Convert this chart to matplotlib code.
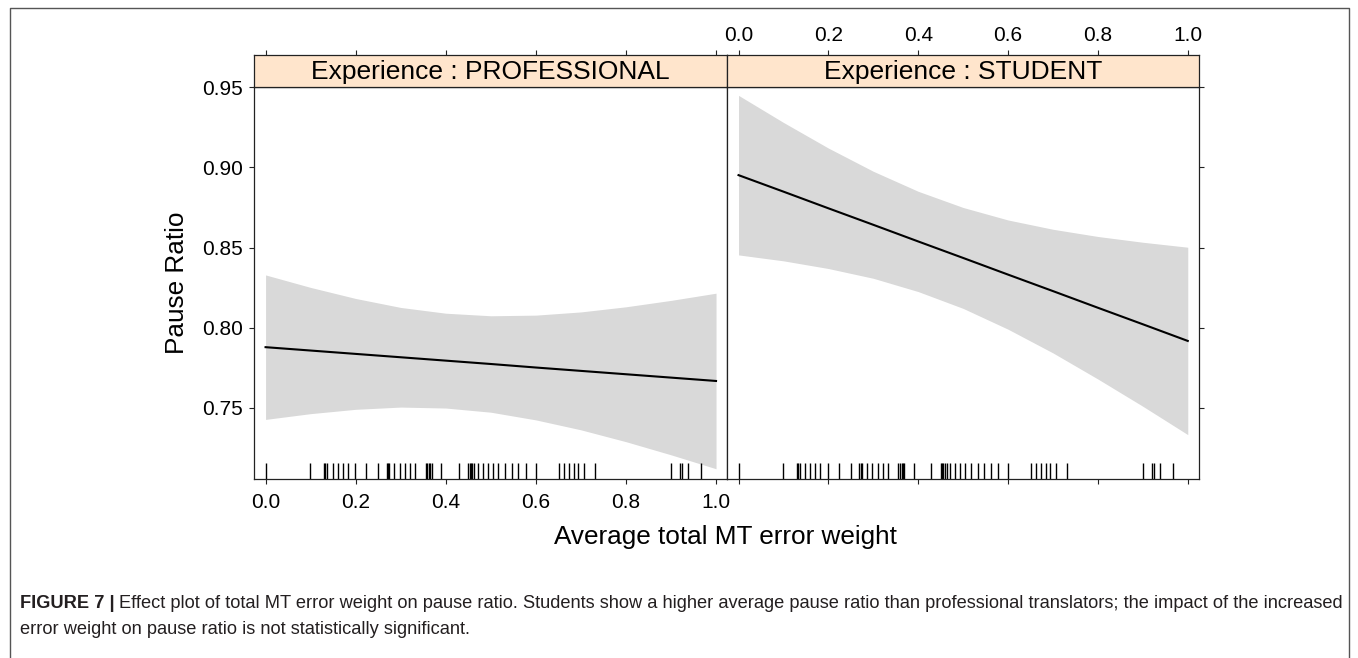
import matplotlib
matplotlib.use("Agg")
import matplotlib.pyplot as plt
from matplotlib import font_manager as fm
from matplotlib.lines import Line2D
from matplotlib.transforms import blended_transform_factory

plt.rcParams['font.family'] = ['Liberation Sans', 'DejaVu Sans']

# ---------------- data ----------------
panels = ["Experience : PROFESSIONAL", "Experience : STUDENT"]
x_grid = [0.0, 0.1, 0.2, 0.3, 0.4, 0.5, 0.6, 0.7, 0.8, 0.9, 1.0]
prof_fit = [0.7878, 0.7857, 0.7836, 0.7815, 0.7794, 0.7773, 0.7751, 0.7730, 0.7709, 0.7688, 0.7667]
prof_lower = [0.7427, 0.7463, 0.7490, 0.7504, 0.7498, 0.7472, 0.7424, 0.7362, 0.7288, 0.7206, 0.7119]
prof_upper = [0.8329, 0.8251, 0.8182, 0.8126, 0.8090, 0.8074, 0.8078, 0.8098, 0.8130, 0.8170, 0.8215]
stud_fit = [0.8952, 0.8849, 0.8745, 0.8642, 0.8538, 0.8435, 0.8331, 0.8228, 0.8124, 0.8021, 0.7917]
stud_lower = [0.8454, 0.8417, 0.8369, 0.8308, 0.8225, 0.8120, 0.7990, 0.7842, 0.7679, 0.7509, 0.7332]
stud_upper = [0.9450, 0.9281, 0.9121, 0.8976, 0.8851, 0.8750, 0.8672, 0.8614, 0.8569, 0.8533, 0.8502]
rug_x = [0.0, 0.099, 0.130, 0.133, 0.136, 0.149, 0.160, 0.171, 0.182, 0.199, 0.223,
         0.250, 0.269, 0.272, 0.275, 0.285, 0.298, 0.310, 0.321, 0.332, 0.356, 0.359,
         0.363, 0.366, 0.369, 0.390, 0.429, 0.450, 0.453, 0.456, 0.459, 0.463, 0.471,
         0.482, 0.493, 0.504, 0.517, 0.532, 0.547, 0.561, 0.578, 0.600, 0.652, 0.663,
         0.674, 0.685, 0.694, 0.707, 0.731, 0.900, 0.921, 0.924, 0.938, 0.967]
x_ticks = [0.0, 0.2, 0.4, 0.6, 0.8, 1.0]
x_ticklabels = ["0.0", "0.2", "0.4", "0.6", "0.8", "1.0"]
y_ticks = [0.75, 0.80, 0.85, 0.90, 0.95]
y_ticklabels = ["0.75", "0.80", "0.85", "0.90", "0.95"]
x_label = "Average total MT error weight"
y_label = "Pause Ratio"
caption_bold = "FIGURE 7 |"
caption_line1 = ("Effect plot of total MT error weight on pause ratio. Students show a higher average "
                 "pause ratio than professional translators; the impact of the increased")
caption_line2 = "error weight on pause ratio is not statistically significant."

# ---------------- layout ----------------
W, H = 1358, 658
fig = plt.figure(figsize=(W / 100, H / 100), dpi=100)
fig.patch.set_facecolor("white")

panel_top, panel_bot = 87.2, 479.0
strip_top = 55.0
panel_x = [(254.3, 727.3), (727.3, 1199.0)]
XLIM = (-0.025, 1.025)
YLIM = (0.7055, 0.9501)
band_color = "#D9D9D9"
strip_color = "#FFE5CC"
spine_color = "#222222"
tick_len = 3.6
fits = [(prof_fit, prof_lower, prof_upper), (stud_fit, stud_lower, stud_upper)]

for i, ((x0, x1), name, (fit, lo, up)) in enumerate(zip(panel_x, panels, fits)):
    ax = fig.add_axes([x0 / W, 1 - panel_bot / H, (x1 - x0) / W, (panel_bot - panel_top) / H])
    ax.fill_between(x_grid, lo, up, color=band_color, linewidth=0, zorder=1)
    ax.plot(x_grid, fit, color="black", lw=1.5, zorder=3)
    trans = blended_transform_factory(ax.transData, ax.transAxes)
    ax.vlines(rug_x, 0, 16 / (panel_bot - panel_top), transform=trans, color="black", lw=1.0, zorder=2)
    ax.set_xlim(*XLIM)
    ax.set_ylim(*YLIM)
    for s in ax.spines.values():
        s.set_color(spine_color)
        s.set_linewidth(0.9)
    ax.set_xticks(x_ticks)
    ax.set_yticks(y_ticks)
    ax.tick_params(direction="out", length=tick_len, width=0.8, color=spine_color,
                   labelsize=15, labelcolor="black")
    ax.tick_params(axis="x", pad=6.5)
    ax.tick_params(axis="y", pad=4.3)
    if i == 0:
        ax.set_xticklabels(x_ticklabels)
        ax.set_yticklabels(y_ticklabels)
        ax.tick_params(axis="y", left=True, right=False, labelleft=True)
    else:
        ax.set_xticklabels([])
        ax.yaxis.tick_right()
        ax.tick_params(axis="y", left=False, right=True, labelright=False, labelleft=False)

    # strip
    sax = fig.add_axes([x0 / W, 1 - panel_top / H, (x1 - x0) / W, (panel_top - strip_top) / H])
    sax.set_facecolor(strip_color)
    sax.set_xlim(*XLIM)
    sax.set_ylim(0, 1)
    for s in sax.spines.values():
        s.set_color(spine_color)
        s.set_linewidth(0.9)
    sax.set_yticks([])
    sax.xaxis.tick_top()
    sax.set_xticks(x_ticks)
    sax.tick_params(axis="x", direction="out", length=tick_len, width=0.8, color=spine_color,
                    labelsize=15, pad=3.6)
    if i == 1:
        sax.set_xticklabels(x_ticklabels)
    else:
        sax.set_xticklabels([])
    sax.text(0.5, 0.47, name, transform=sax.transAxes, ha="center", va="center", fontsize=19)

# overlay axes in figure coordinates
ov = fig.add_axes([0, 0, 1, 1], zorder=-1)
ov.set_xlim(0, W)
ov.set_ylim(H, 0)
ov.axis("off")

ov.text(725.5, 537, x_label, ha="center", va="center", fontsize=18.8)
ov.text(176.7, 283, y_label, ha="center", va="center", rotation=90, fontsize=18.8)

# outer frame
ov.add_line(Line2D([10, 10, 1349, 1349], [H + 2, 8, 8, H + 2], color="#555555", lw=1.0))

# caption
names = {f.name for f in fm.fontManager.ttflist}
cap_family = ["Liberation Sans Narrow", "Liberation Sans"] if "Liberation Sans Narrow" in names else ["Liberation Sans"]
cap_color = "#231F20"
cap_fs = 12.0
tb = ov.text(20, 604, caption_bold, fontsize=cap_fs, fontweight="bold", family=cap_family,
             ha="left", va="center", color=cap_color)
tr = ov.annotate(caption_line1, xy=(1, 0.5), xycoords=tb, xytext=(3, 0), textcoords="offset points",
                 ha="left", va="center", fontsize=cap_fs, family=cap_family, color=cap_color)
t2 = ov.text(20, 630, caption_line2, fontsize=cap_fs, family=cap_family,
             ha="left", va="center", color=cap_color)
for _ in range(3):
    fig.canvas.draw()
    r = fig.canvas.get_renderer()
    right = tr.get_window_extent(r).x1
    scale = (1340 - 20) / (right - 20)
    cap_fs *= scale
    for t in (tb, tr, t2):
        t.set_fontsize(cap_fs)

fig.savefig("out.png", dpi=100, facecolor="white")
